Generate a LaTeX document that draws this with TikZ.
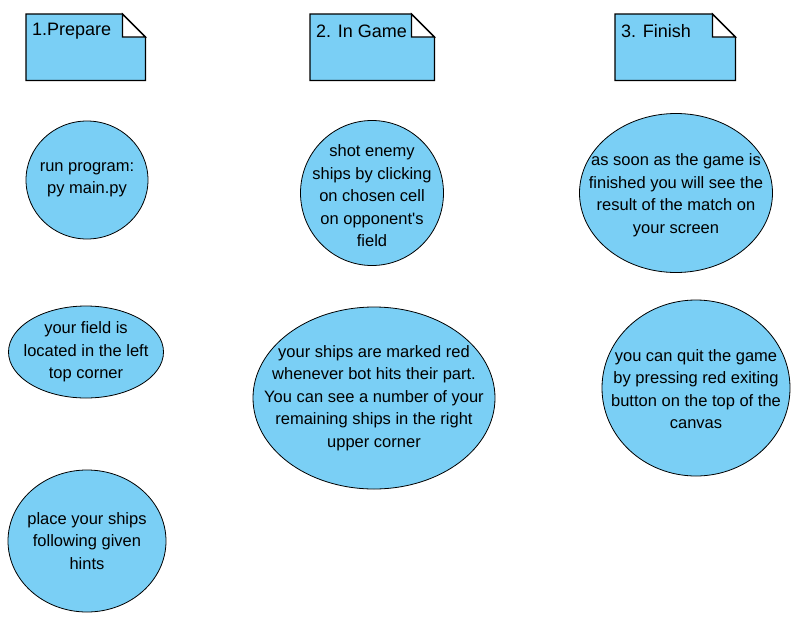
\documentclass[tikz,border=0pt]{standalone}
\usepackage{fontspec}
\setmainfont{Liberation Sans}
\usetikzlibrary{shapes.geometric}
\definecolor{skyfill}{RGB}{122,207,245}

\begin{document}
\begin{tikzpicture}[x=1pt,y=-1pt,
  main/.style={draw,ellipse,fill=skyfill,line width=0.8pt,inner sep=0pt},
  txt/.style={align=center,inner sep=0pt,font=\fontsize{16.5}{22.5}\selectfont},
  note/.style={rectangle,minimum height=66pt,inner sep=0pt},
  notebox/.style={draw,fill=skyfill,line width=1.3pt,line join=miter},
  fold/.style={draw,fill=white,line width=1.3pt},
  title/.style={anchor=west,inner sep=0pt,font=\fontsize{18}{20}\selectfont}]
\useasboundingbox (0,0) rectangle (811,627);

% the three stage notes
\foreach \nm/\x/\w/\txt in {prep/26/119/1.Prepare,game/310/124/2. In Game,fin/615/120/3. Finish}{
  \node[note,minimum width=\w pt,anchor=north west] (\nm) at (\x,14) {};
  \draw[notebox] (\nm.south west) -- (\nm.north west) -- ([xshift=-23pt]\nm.north east)
    -- ([yshift=-23pt]\nm.north east) -- (\nm.south east) -- cycle;
  \draw[fold] ([xshift=-23pt]\nm.north east) |- ([yshift=-23pt]\nm.north east) -- cycle;
  \node[title] (\nm t) at ([xshift=6pt,yshift=-17pt]\nm.north west) {\txt};
}

% prepare
\node[main,minimum width=122pt,minimum height=118pt,
  label={[txt]center:{run program:\\py main.py}}] (run) at (87,180) {};
\node[main,minimum width=155pt,minimum height=92pt,
  label={[txt]center:{your field is\\located in the left\\top corner}}] (field) at (86,352) {};
\node[main,minimum width=158pt,minimum height=142pt,
  label={[txt]center:{place your ships\\following given\\hints}}] (place) at (87,541) {};

% in game
\node[main,minimum width=143pt,minimum height=145pt,
  label={[txt,yshift=-3pt]center:{shot enemy\\ships by clicking\\on chosen cell\\on opponent\textquotesingle s\\field}}] (shot) at (372,193) {};
\node[main,minimum width=242pt,minimum height=182pt,
  label={[txt]center:{your ships are marked red\\whenever bot hits their part.\\You can see a number of your\\remaining ships in the right\\upper corner}}] (marked) at (374,398) {};

% finish
\node[main,minimum width=193pt,minimum height=159pt,
  label={[txt,yshift=-2pt]center:{as soon as the game is\\finished you will see the\\result of the match on\\your screen}}] (result) at (676,193) {};
\node[main,minimum width=188pt,minimum height=176pt,
  label={[txt,yshift=-1pt]center:{you can quit the game\\by pressing red exiting\\button on the top of the\\canvas}}] (quit) at (696,388) {};

\end{tikzpicture}
\end{document}
